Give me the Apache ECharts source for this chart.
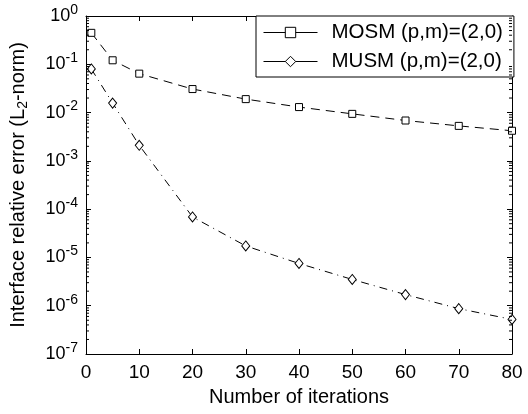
<!DOCTYPE html>
<html>
<head>
<meta charset="utf-8">
<style>html,body{margin:0;padding:0;background:#fff;}#c{width:528px;height:414px;}</style>
<script src="https://cdn.jsdelivr.net/npm/echarts@6/dist/echarts.min.js"></script>
</head>
<body>
<div id="c"></div>
<script>
var iterations = [1, 5, 10, 20, 30, 40, 50, 60, 70, 80];
var mosm = [0.448, 0.121, 0.064, 0.0307, 0.019, 0.013, 0.0094, 0.00685, 0.0053, 0.0042];
var musm = [0.080, 0.0157, 0.0021, 6.9e-5, 1.73e-5, 7.5e-6, 3.5e-6, 1.7e-6, 8.7e-7, 5.2e-7];
var seriesNames = ['MOSM (p,m)=(2,0)', 'MUSM (p,m)=(2,0)'];
var yMin = 1e-7, yMax = 1;

var FONT = '"Liberation Sans", Arial, Helvetica, sans-serif';

// minor tick values (2..9 x 10^k)
var minorVals = [];
for (var k = -7; k < 0; k++) {
  for (var m = 2; m <= 9; m++) minorVals.push([m * Math.pow(10, k)]);
}

function pairs(xs, ys) { return xs.map(function (x, i) { return [x, ys[i]]; }); }

var chart = echarts.init(document.getElementById('c'), null, {renderer: 'canvas'});
var yLabelRich = {
  b: {fontSize: 18, fontFamily: FONT, color: '#000'},
  e: {fontSize: 14, fontFamily: FONT, color: '#000', padding: [0, 0, 12, 0]}
};
chart.setOption({
  animation: false,
  backgroundColor: '#fff',
  grid: {left: 84, right: 16, top: 16, bottom: 60, containLabel: false},
  legend: {
    data: seriesNames,
    left: 256, top: 16,
    orient: 'vertical',
    backgroundColor: '#fff',
    borderColor: '#000', borderWidth: 1, borderRadius: 0,
    padding: [6, 11, 5, 7],
    itemGap: 8,
    itemWidth: 54, itemHeight: 13,
    textStyle: {fontSize: 20.5, fontFamily: FONT, color: '#000', padding: [0, 0, 0, 9]},
    lineStyle: {type: 'solid', width: 1, color: '#000'},
    itemStyle: {color: '#fff', borderColor: '#000', borderWidth: 1},
    selectedMode: false
  },
  xAxis: [{
    type: 'value', min: 0, max: 80, interval: 10, position: 'bottom',
    name: 'Number of iterations', nameLocation: 'middle', nameGap: 33,
    nameTextStyle: {fontSize: 20, fontFamily: FONT, color: '#000'},
    axisLine: {show: true, onZero: false, lineStyle: {color: '#000', width: 1}},
    axisTick: {show: true, inside: true, length: 5, lineStyle: {color: '#000'}},
    axisLabel: {fontSize: 19, fontFamily: FONT, color: '#000', margin: 9},
    splitLine: {show: false}
  }, {
    type: 'value', min: 0, max: 80, interval: 10, position: 'top',
    axisLine: {show: true, onZero: false, lineStyle: {color: '#000', width: 1}},
    axisTick: {show: true, inside: true, length: 5, lineStyle: {color: '#000'}},
    axisLabel: {show: false},
    splitLine: {show: false}
  }],
  yAxis: [{
    type: 'log', logBase: 10, min: yMin, max: yMax, position: 'left',
    name: 'Interface relative error (L{s|2}-norm)',
    nameLocation: 'middle', nameGap: 56, nameRotate: 90,
    nameTextStyle: {fontSize: 20, fontFamily: FONT, color: '#000',
      rich: {s: {fontSize: 14, fontFamily: FONT, color: '#000', padding: [10, 0, 0, 0]}}},
    axisLine: {show: true, onZero: false, lineStyle: {color: '#000', width: 1}},
    axisTick: {show: true, inside: true, length: 5, lineStyle: {color: '#000'}},
    axisLabel: {
      margin: 8,
      formatter: function (v) {
        var e = Math.round(Math.log10(v));
        return '{b|10}{e|' + e + '}';
      },
      rich: yLabelRich
    },
    splitLine: {show: false}
  }, {
    type: 'log', logBase: 10, min: yMin, max: yMax, position: 'right',
    axisLine: {show: true, onZero: false, lineStyle: {color: '#000', width: 1}},
    axisTick: {show: true, inside: true, length: 5, lineStyle: {color: '#000'}},
    axisLabel: {show: false},
    splitLine: {show: false}
  }],
  series: [{
    name: seriesNames[0], type: 'line', xAxisIndex: 0, yAxisIndex: 0,
    data: pairs(iterations, mosm),
    symbol: 'rect', symbolSize: 7, showAllSymbol: true,
    lineStyle: {color: '#000', width: 1, type: [9, 6]},
    itemStyle: {color: '#fff', borderColor: '#000', borderWidth: 1},
    emphasis: {disabled: true}, z: 3
  }, {
    name: seriesNames[1], type: 'line', xAxisIndex: 0, yAxisIndex: 0,
    data: pairs(iterations, musm),
    symbol: 'diamond', symbolSize: [8, 10], showAllSymbol: true,
    lineStyle: {color: '#000', width: 1, type: [8, 5, 1, 5]},
    itemStyle: {color: '#fff', borderColor: '#000', borderWidth: 1},
    emphasis: {disabled: true}, z: 3
  }, {
    name: 'minorTicks', type: 'custom', xAxisIndex: 0, yAxisIndex: 0,
    data: minorVals, silent: true, clip: false, z: 4,
    encode: {y: 0},
    renderItem: function (params, api) {
      var v = api.value(0);
      var pl = api.coord([0, v]);
      var pr = api.coord([80, v]);
      return {type: 'group', children: [
        {type: 'line', shape: {x1: pl[0], y1: pl[1], x2: pl[0] + 3, y2: pl[1]}, style: {stroke: '#000', lineWidth: 1}},
        {type: 'line', shape: {x1: pr[0], y1: pr[1], x2: pr[0] - 3, y2: pr[1]}, style: {stroke: '#000', lineWidth: 1}}
      ]};
    }
  }]
});
</script>
</body>
</html>
